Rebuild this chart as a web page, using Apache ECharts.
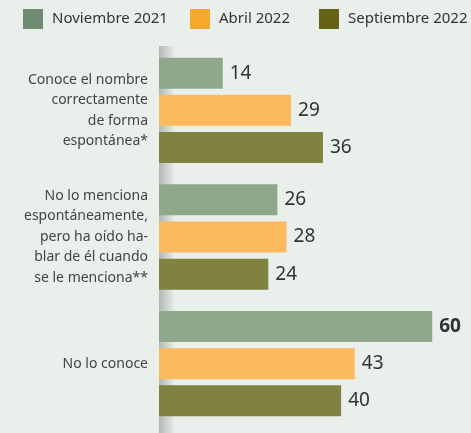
<!DOCTYPE html>
<html><head><meta charset="utf-8">
<script src="https://cdn.jsdelivr.net/npm/echarts@6/dist/echarts.min.js"></script>
<style>html,body{margin:0;padding:0;background:#e9efea;}#c{width:471px;height:433px;}</style>
</head><body><div id="c"></div>
<script>
const categories = [
  'Conoce el nombre\ncorrectamente\nde forma\nespontánea*',
  'No lo menciona\nespontáneamente,\npero ha oído ha-\nblar de él cuando\nse le menciona**',
  'No lo conoce'
];
const seriesNames = ['Noviembre 2021', 'Abril 2022', 'Septiembre 2022'];
const nov2021 = [14, 26, 60];
const abr2022 = [29, 28, 43];
const sep2022 = [36, 24, 40];
const barColors = ['#8fa78b', '#fdb95e', '#7f8241'];
const legendColors = ['#6f8b72', '#f6a92a', '#646414'];
const legendLefts = [23, 190, 319];
const boldValues = [[false, false, true], [false, false, false], [false, false, false]];

const allValues = [nov2021, abr2022, sep2022];
const chart = echarts.init(document.getElementById('c'));
const font = 'Noto Sans';
chart.setOption({
  backgroundColor: '#e9efea',
  animation: false,
  legend: seriesNames.map((n, i) => ({
    left: legendLefts[i], top: 9, padding: 0, itemWidth: 20, itemHeight: 20,
    icon: 'rect',
    textStyle: { fontFamily: font, fontSize: 15, color: '#333', padding: [0, 0, 0, 4] },
    data: [{ name: n, itemStyle: { color: legendColors[i] } }]
  })),
  graphic: [{
    type: 'rect', left: 159, top: 46, z: 0,
    shape: { width: 16, height: 387 },
    style: {
      fill: new echarts.graphic.LinearGradient(0, 0, 1, 0, [
        { offset: 0, color: 'rgba(130,140,135,0.55)' },
        { offset: 1, color: 'rgba(130,140,135,0)' }
      ])
    }
  }],
  grid: { left: 159, right: 16, top: 47, bottom: 6, containLabel: false },
  xAxis: { type: 'value', min: 0, max: 65, show: false },
  yAxis: {
    type: 'category', inverse: true, data: categories,
    axisLine: { show: false }, axisTick: { show: false },
    axisLabel: { margin: 11, fontFamily: font, fontSize: 14, lineHeight: 20.5, color: '#444', align: 'right' }
  },
  series: allValues.map((vals, si) => ({
    name: seriesNames[si], type: 'bar', barWidth: 31, barGap: '20%', z: 3,
    itemStyle: { color: barColors[si] },
    label: { show: true, position: 'right', distance: 7, fontFamily: font, fontSize: 19, color: '#333' },
    data: vals.map((v, ci) => boldValues[si][ci] ? { value: v, label: { fontWeight: 'bold' } } : v)
  }))
});
</script></body></html>
